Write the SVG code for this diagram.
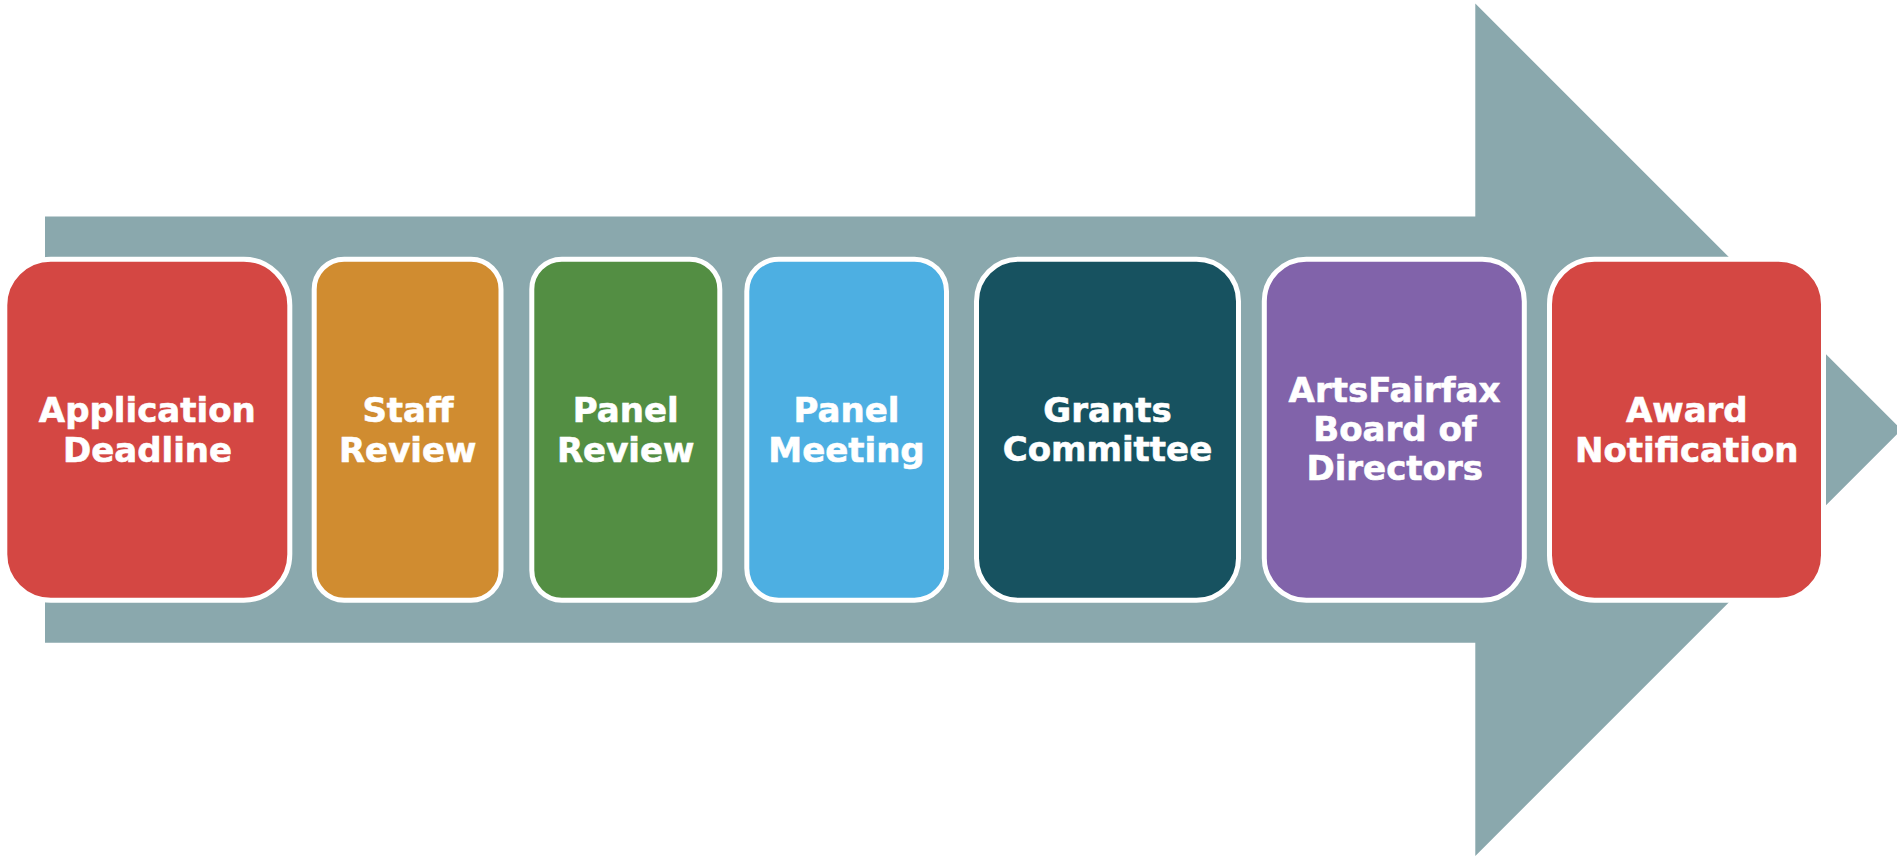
<svg xmlns="http://www.w3.org/2000/svg" width="1897" height="859" viewBox="0 0 1897 859">
  <style>
    .box { stroke: #FFFFFF; stroke-width: 5; }
    .label { font-family: "DejaVu Sans", "Open Sans", sans-serif; font-weight: 700; font-size: 34px; fill: #FFFFFF; stroke: #FFFFFF; stroke-width: 0.6; text-anchor: middle; }
  </style>
  <rect width="1897" height="859" fill="#FFFFFF"/>

  <!-- Block arrow behind the steps -->
  <g id="connectors">
    <polygon points="45,216.5 1475.3,216.5 1475.3,3.5 1901.5,429.7 1475.3,856 1475.3,642.7 45,642.7" fill="#8AA8AD"/>
  </g>

  <g id="step-application-deadline">
    <rect class="box" x="4.8" y="259.2" width="285" height="341" rx="46" fill="#D44743"/>
    <text class="label"><tspan x="147.3" y="422.3">Application</tspan><tspan x="147.5" y="461.5">Deadline</tspan></text>
  </g>

  <g id="step-staff-review">
    <rect class="box" x="314.2" y="259.2" width="186.8" height="341" rx="30" fill="#D08C30"/>
    <text class="label"><tspan x="408" y="422.3">Staff</tspan><tspan x="407.7" y="461.5">Review</tspan></text>
  </g>

  <g id="step-panel-review">
    <rect class="box" x="531.8" y="259.2" width="188" height="341" rx="30" fill="#538E43"/>
    <text class="label"><tspan x="625.8" y="422.3">Panel</tspan><tspan x="625.7" y="461.5">Review</tspan></text>
  </g>

  <g id="step-panel-meeting">
    <rect class="box" x="746.8" y="259.2" width="199.7" height="341" rx="32" fill="#4DAFE2"/>
    <text class="label"><tspan x="846.5" y="422.3">Panel</tspan><tspan x="846.5" y="461.5">Meeting</tspan></text>
  </g>

  <g id="step-grants-committee">
    <rect class="box" x="976.5" y="259.2" width="262" height="341" rx="42" fill="#175260"/>
    <text class="label"><tspan x="1107.5" y="421.7">Grants</tspan><tspan x="1107.5" y="461">Committee</tspan></text>
  </g>

  <g id="step-board-of-directors">
    <rect class="box" x="1264.3" y="259.2" width="260" height="341" rx="42" fill="#8163AA"/>
    <text class="label"><tspan x="1394.5" y="401.7">ArtsFairfax</tspan><tspan x="1395" y="441">Board of</tspan><tspan x="1394.7" y="480.3">Directors</tspan></text>
  </g>

  <g id="step-award-notification">
    <rect class="box" x="1549.5" y="259.2" width="274" height="341" rx="45" fill="#D44743"/>
    <text class="label"><tspan x="1686.8" y="421.7">Award</tspan><tspan x="1686.8" y="461.5">Notification</tspan></text>
  </g>
</svg>
